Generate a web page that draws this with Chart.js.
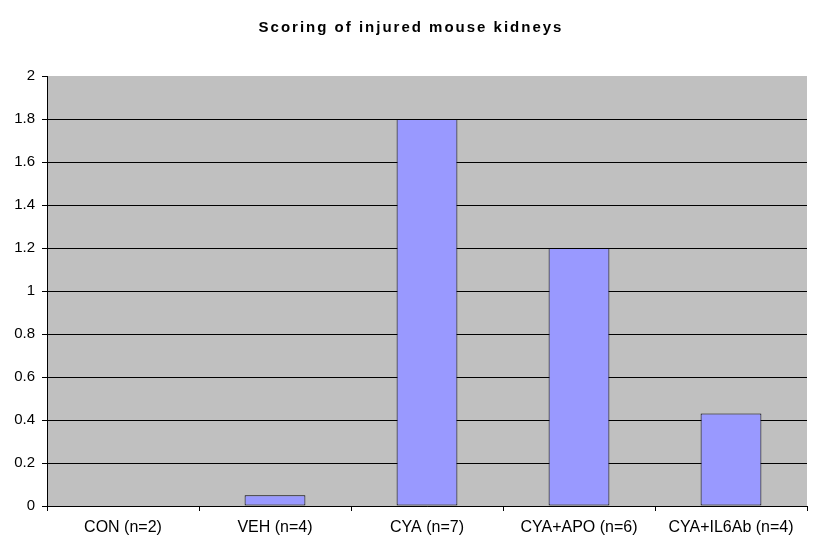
<!DOCTYPE html>
<html>
<head>
<meta charset="utf-8">
<script src="https://cdn.jsdelivr.net/npm/chart.js@4/dist/chart.umd.min.js"></script>
<style>
  html, body { margin: 0; padding: 0; background: #fff; }
  #wrap { width: 825px; height: 556px; }
</style>
</head>
<body>
<div id="wrap"><canvas id="kidneyChart"></canvas></div>
<script>
const groups = ['CON (n=2)', 'VEH (n=4)', 'CYA (n=7)', 'CYA+APO (n=6)', 'CYA+IL6Ab (n=4)'];
const scores = [0, 0.05, 1.8, 1.2, 0.43];
const chartTitle = 'Scoring of injured mouse kidneys';
const yMax = 2;
const yStep = 0.2;

// gray plot background like the old Excel chart
const plotBg = {
    id: 'plotBg',
    beforeDraw(chart) {
        const a = chart.chartArea;
        const ctx = chart.ctx;
        ctx.save();
        ctx.fillStyle = '#c0c0c0';
        ctx.fillRect(a.left, a.top, a.right - a.left, a.bottom - a.top);
        ctx.restore();
    }
};

// title drawn by hand so it can get the wide letter spacing
const spacedTitle = {
    id: 'spacedTitle',
    afterDraw(chart) {
        const ctx = chart.ctx;
        ctx.save();
        ctx.font = 'bold 15px "Liberation Sans", Arial, sans-serif';
        ctx.letterSpacing = '2px';
        ctx.fillStyle = '#000';
        ctx.textAlign = 'center';
        ctx.textBaseline = 'middle';
        ctx.fillText(chartTitle, 411, 28);
        ctx.restore();
    }
};

const ctx = document.getElementById('kidneyChart').getContext('2d');
const chart = new Chart(ctx, {
    type: 'bar',
    data: {
        labels: groups,
        datasets: [{
            label: 'Score',
            data: scores,
            backgroundColor: '#9999ff',
            borderColor: '#000000',
            borderWidth: 1,
            borderSkipped: false,
            barPercentage: 0.4,
            categoryPercentage: 1.0
        }]
    },
    options: {
        responsive: true,
        maintainAspectRatio: false,
        animation: false,
        layout: { padding: { left: 0, right: 18, top: 0, bottom: 0 } },
        plugins: {
            legend: { display: false },
            tooltip: { enabled: false },
            title: {
                display: true,
                text: chartTitle,
                color: 'rgba(0,0,0,0)',
                font: { family: 'Liberation Sans, Arial, sans-serif', size: 15, weight: 'bold' },
                padding: { top: 19, bottom: 39 }
            }
        },
        scales: {
            x: {
                offset: true,
                afterFit(scale) { scale.height = 50; },
                grid: {
                    offset: true,
                    drawOnChartArea: false,
                    drawTicks: true,
                    tickLength: 5,
                    color: '#000'
                },
                border: { color: '#000', width: 1 },
                ticks: {
                    color: '#000',
                    padding: 7,
                    font: { family: 'Liberation Sans, Arial, sans-serif', size: 16 }
                }
            },
            y: {
                min: 0,
                max: yMax,
                afterFit(scale) { scale.width = 47; },
                grid: {
                    color: (c) => (c.tick && c.tick.value === yMax) ? 'rgba(0,0,0,0)' : '#000',
                    tickColor: '#000',
                    tickLength: 5,
                    lineWidth: 1
                },
                border: { color: '#000', width: 1 },
                ticks: {
                    stepSize: yStep,
                    color: '#000',
                    padding: 7,
                    font: { family: 'Liberation Sans, Arial, sans-serif', size: 15 },
                    callback: (v) => +v.toFixed(1)
                }
            }
        }
    },
    plugins: [plotBg, spacedTitle]
});
</script>
</body>
</html>
